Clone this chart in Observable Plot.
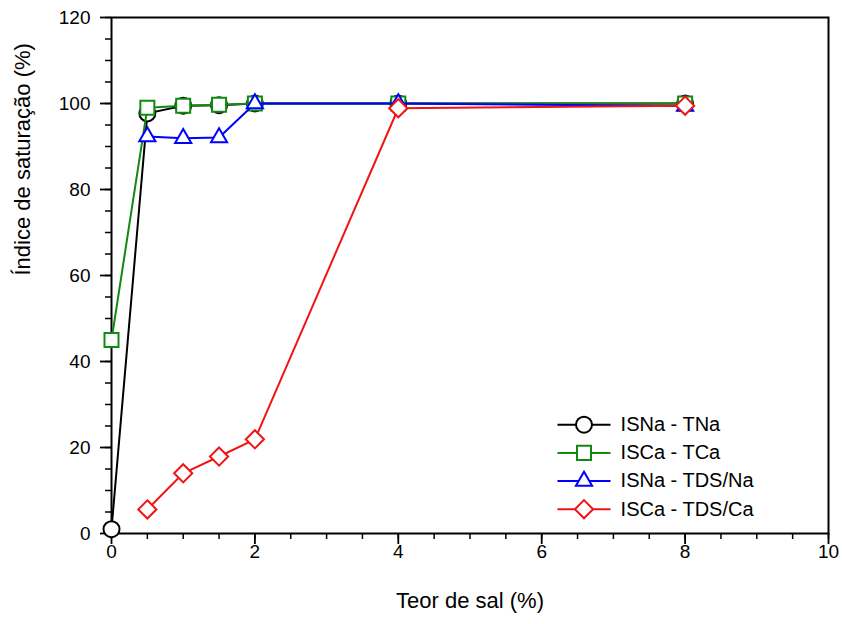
<!DOCTYPE html>
<html>
<head>
<meta charset="utf-8">
<script src="https://cdn.jsdelivr.net/npm/d3@7"></script>
<script src="https://cdn.jsdelivr.net/npm/@observablehq/plot@0.6"></script>
<style>
  html, body { margin: 0; padding: 0; background: white; }
</style>
</head>
<body>
<div id="chart"></div>
<script>
// ---- data ----
const saltContent = [0, 0.5, 1, 1.5, 2, 4, 8];
const isnaTna   = [1, 97.7, 99.5, 99.6, 100, 100, 100];
const iscaTca   = [45, 99.0, 99.5, 99.7, 100, 100, 100];
const isnaTdsNa = [null, 92.3, 91.9, 92.1, 100, 100, 99.4];
const iscaTdsCa = [null, 5.6, 14.0, 17.9, 21.9, 98.9, 99.5];

const seriesNames = ["ISNa - TNa", "ISCa - TCa", "ISNa - TDS/Na", "ISCa - TDS/Ca"];
const seriesValues = [isnaTna, iscaTca, isnaTdsNa, iscaTdsCa];

const xMajorTicks = [0, 2, 4, 6, 8, 10];
const xMinorTicks = d3.range(0, 10.01, 0.5);
const yMajorTicks = [0, 20, 40, 60, 80, 100, 120];
const yMinorTicks = d3.range(0, 120.01, 5);

const xLabel = "Teor de sal (%)";
const yLabel = "Índice de saturação (%)";

// ---- styles ----
const colors = ["#000000", "#128a12", "#0000ff", "#f01414"];
const symbols = ["circle", "square", "triangle", "diamond2"];
const radii = [8, 7.9, 6, 8.2];

const series = seriesNames.map((name, i) => ({
  name,
  color: colors[i],
  symbol: symbols[i],
  r: radii[i],
  rows: saltContent
    .map((x, j) => ({x, y: seriesValues[i][j]}))
    .filter(d => d.y != null)
}));

// legend layout in data units (inside the plot, lower right)
const legX1 = 6.22, legX2 = 6.96, legXm = 6.59, legXt = 7.1;
const legY0 = 25.3, legStep = 6.55;
const legend = series.map((s, i) => ({...s, ly: legY0 - i * legStep}));

const marks = [
  Plot.axisX({ticks: xMinorTicks, tickSize: 6, tickFormat: () => "", label: null, strokeWidth: 1.5}),
  Plot.axisX({ticks: xMajorTicks, tickSize: 11, tickPadding: 0, fontSize: 19, label: null, strokeWidth: 1.8}),
  Plot.axisY({ticks: yMinorTicks, tickSize: 6, tickFormat: () => "", label: null, strokeWidth: 1.5}),
  Plot.axisY({ticks: yMajorTicks, tickSize: 11, tickPadding: 10, fontSize: 19, label: null, strokeWidth: 1.8}),
  Plot.frame({stroke: "black", strokeWidth: 2}),
  Plot.text([xLabel], {frameAnchor: "bottom", dy: 74, fontSize: 22, fill: "black"}),
  Plot.text([yLabel], {frameAnchor: "left", dx: -89, rotate: -90, fontSize: 22, fill: "black"})
];

for (const s of series) {
  marks.push(Plot.line(s.rows, {x: "x", y: "y", stroke: s.color, strokeWidth: 2}));
  marks.push(Plot.dot(s.rows, {x: "x", y: "y", symbol: () => s.symbol, r: s.r, stroke: s.color, fill: "white", strokeWidth: 2}));
}

// legend
for (const s of legend) {
  marks.push(Plot.link([s], {x1: () => legX1, x2: () => legX2, y1: "ly", y2: "ly", stroke: s.color, strokeWidth: 2}));
  marks.push(Plot.dot([s], {x: () => legXm, y: "ly", symbol: () => s.symbol, r: s.r, stroke: s.color, fill: "white", strokeWidth: 2}));
  marks.push(Plot.text([s], {x: () => legXt, y: "ly", text: "name", textAnchor: "start", fontSize: 20, fill: "black"}));
}

const chart = Plot.plot({
  width: 842,
  height: 624,
  marginLeft: 111,
  marginRight: 14,
  marginTop: 17,
  marginBottom: 91,
  x: {domain: [0, 10]},
  y: {domain: [0, 120]},
  symbol: {type: "identity"},
  style: {fontFamily: "'Liberation Sans', Arial, sans-serif", background: "white", color: "black"},
  marks
});
document.getElementById("chart").appendChild(chart);
</script>
</body>
</html>
